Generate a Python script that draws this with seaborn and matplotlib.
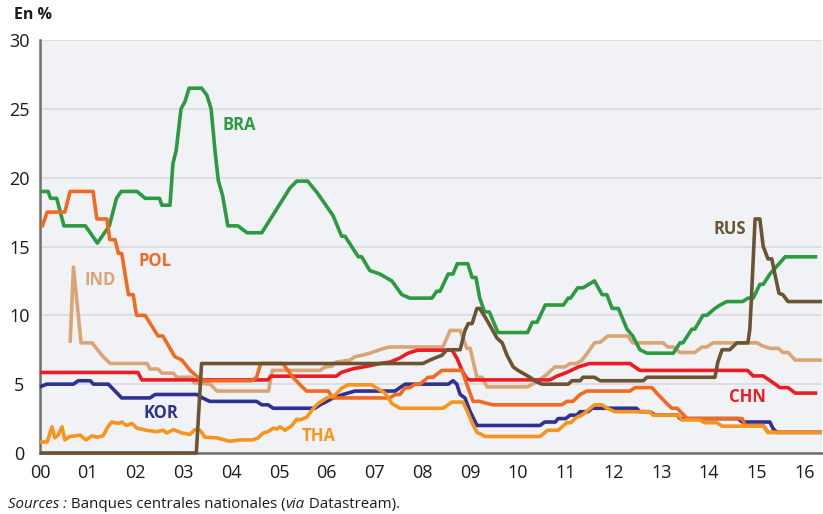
import matplotlib
matplotlib.use('Agg')
import matplotlib.pyplot as plt
import seaborn as sns
import pandas as pd

# ---- data (decimal years since 2000, policy rate in %) ----
BRA = [(0, 19.0), (0.17, 19.0), (0.22, 18.5), (0.35, 18.5), (0.5, 16.5), (0.95, 16.5), (1.2, 15.25),
       (1.45, 16.5), (1.6, 18.5), (1.7, 19.0), (2.03, 19.0), (2.2, 18.5), (2.5, 18.5), (2.55, 18.0),
       (2.72, 18.0), (2.78, 21.0), (2.85, 22.0), (2.95, 25.0), (3.03, 25.5), (3.12, 26.5), (3.38, 26.5),
       (3.49, 26.0), (3.58, 25.0), (3.66, 22.0), (3.73, 19.8), (3.82, 18.7), (3.93, 16.5), (4.14, 16.5),
       (4.33, 16.0), (4.64, 16.0), (5.23, 19.25), (5.37, 19.75), (5.6, 19.75), (5.8, 18.9), (6.0, 17.9),
       (6.13, 17.25), (6.31, 15.75), (6.38, 15.75), (6.66, 14.25), (6.73, 14.25), (6.9, 13.25), (7.11, 13.0),
       (7.36, 12.5), (7.57, 11.5), (7.74, 11.25), (8.2, 11.25), (8.3, 11.75), (8.37, 11.75), (8.54, 13.0),
       (8.64, 13.0), (8.73, 13.75), (8.95, 13.75), (9.04, 12.75), (9.12, 12.75), (9.2, 11.25), (9.3, 10.25),
       (9.4, 10.25), (9.58, 8.75), (10.2, 8.75), (10.3, 9.5), (10.4, 9.5), (10.57, 10.75), (10.95, 10.75),
       (11.05, 11.25), (11.1, 11.25), (11.25, 12.0), (11.36, 12.0), (11.6, 12.5), (11.76, 11.5),
       (11.86, 11.5), (11.97, 10.5), (12.1, 10.5), (12.28, 9.0), (12.4, 8.5), (12.55, 7.5), (12.7, 7.25),
       (13.25, 7.25), (13.39, 8.0), (13.45, 8.0), (13.64, 9.0), (13.7, 9.0), (13.87, 10.0), (13.95, 10.0),
       (14.12, 10.5), (14.23, 10.75), (14.37, 11.0), (14.7, 11.0), (14.81, 11.25), (14.92, 11.25),
       (15.06, 12.25), (15.13, 12.25), (15.27, 13.0), (15.59, 14.25), (16.26, 14.25)]

POL = [(0.04, 16.4), (0.15, 17.5), (0.52, 17.5), (0.63, 19.0), (1.11, 19.0), (1.19, 17.0), (1.4, 17.0),
       (1.46, 15.5), (1.57, 15.5), (1.64, 14.5), (1.71, 14.5), (1.85, 11.5), (1.95, 11.5), (2.02, 10.0),
       (2.2, 10.0), (2.47, 8.5), (2.57, 8.5), (2.82, 7.0), (2.97, 6.75), (3.14, 6.0), (3.39, 5.25),
       (4.43, 5.25), (4.53, 5.5), (4.62, 6.5), (5.08, 6.5), (5.29, 5.5), (5.5, 4.75), (5.58, 4.5),
       (6.03, 4.5), (6.13, 4.0), (7.32, 4.0), (7.43, 4.25), (7.53, 4.25), (7.64, 4.75), (7.74, 4.75),
       (7.85, 5.0), (7.95, 5.0), (8.12, 5.5), (8.22, 5.5), (8.41, 6.0), (8.83, 6.0), (8.93, 5.0),
       (9.06, 3.75), (9.2, 3.75), (9.35, 3.6), (9.48, 3.5), (10.92, 3.5), (11.02, 3.75), (11.15, 3.75),
       (11.3, 4.25), (11.44, 4.5), (12.34, 4.5), (12.45, 4.75), (12.8, 4.75), (12.93, 4.25), (13.14, 3.5),
       (13.22, 3.25), (13.33, 3.25), (13.54, 2.5), (14.69, 2.5), (14.75, 2.0), (15.13, 2.0), (15.23, 1.5),
       (16.36, 1.5)]

CHN = [(0, 5.85), (2.05, 5.85), (2.13, 5.31), (4.77, 5.31), (4.83, 5.58), (6.2, 5.58), (6.3, 5.85),
       (6.55, 6.12), (6.84, 6.3), (7.11, 6.5), (7.32, 6.6), (7.53, 6.9), (7.7, 7.25), (7.9, 7.47),
       (8.62, 7.47), (8.72, 6.9), (8.83, 6.0), (8.93, 5.4), (9.0, 5.31), (10.67, 5.31), (10.8, 5.56),
       (11.02, 5.85), (11.26, 6.25), (11.5, 6.5), (12.34, 6.5), (12.55, 6.0), (14.8, 6.0), (14.92, 5.6),
       (15.13, 5.6), (15.34, 5.1), (15.48, 4.75), (15.65, 4.75), (15.8, 4.35), (16.26, 4.35)]

KOR = [(0, 4.8), (0.14, 5.0), (0.7, 5.0), (0.8, 5.25), (1.05, 5.25), (1.12, 5.0), (1.43, 5.0),
       (1.57, 4.5), (1.71, 4.0), (2.3, 4.0), (2.41, 4.25), (3.28, 4.25), (3.4, 4.0), (3.55, 3.75),
       (4.53, 3.75), (4.64, 3.5), (4.77, 3.5), (4.88, 3.25), (5.75, 3.25), (5.86, 3.5), (6.0, 3.75),
       (6.13, 4.0), (6.34, 4.25), (6.59, 4.5), (7.43, 4.5), (7.53, 4.75), (7.64, 5.0), (8.54, 5.0),
       (8.64, 5.25), (8.72, 5.0), (8.79, 4.25), (8.89, 4.0), (9.0, 3.0), (9.14, 2.0), (10.46, 2.0),
       (10.56, 2.25), (10.78, 2.25), (10.84, 2.5), (11.0, 2.5), (11.09, 2.75), (11.23, 2.75), (11.3, 3.0),
       (11.46, 3.0), (11.55, 3.25), (12.48, 3.25), (12.55, 3.0), (12.76, 3.0), (12.87, 2.75), (13.33, 2.75),
       (13.39, 2.5), (14.6, 2.5), (14.69, 2.25), (15.27, 2.25), (15.34, 1.75), (15.42, 1.5), (16.36, 1.5)]

THA = [(0, 0.8), (0.15, 0.8), (0.25, 1.9), (0.31, 1.1), (0.38, 1.3), (0.46, 1.9), (0.52, 0.95),
       (0.63, 1.2), (0.84, 1.3), (0.96, 0.95), (1.09, 1.25), (1.19, 1.15), (1.32, 1.25), (1.42, 1.9),
       (1.5, 2.25), (1.64, 2.15), (1.71, 2.25), (1.81, 2.0), (1.92, 2.15), (2.03, 1.8), (2.23, 1.65),
       (2.44, 1.55), (2.58, 1.65), (2.65, 1.45), (2.79, 1.7), (2.97, 1.45), (3.14, 1.35), (3.24, 1.7),
       (3.35, 1.65), (3.45, 1.15), (3.7, 1.1), (3.97, 0.85), (4.18, 0.95), (4.46, 0.95), (4.56, 1.1),
       (4.67, 1.45), (4.77, 1.55), (4.88, 1.8), (4.96, 1.75), (5.02, 1.9), (5.13, 1.65), (5.27, 2.0),
       (5.37, 2.45), (5.44, 2.4), (5.58, 2.6), (5.72, 3.25), (5.82, 3.6), (6.0, 4.0), (6.17, 4.2),
       (6.31, 4.7), (6.44, 4.95), (6.94, 4.95), (7.05, 4.7), (7.22, 4.35), (7.36, 3.6), (7.53, 3.25),
       (8.43, 3.25), (8.62, 3.7), (8.85, 3.7), (8.93, 3.1), (9.04, 2.2), (9.14, 1.5), (9.27, 1.3),
       (9.31, 1.2), (10.46, 1.2), (10.62, 1.65), (10.84, 1.65), (11.02, 2.2), (11.1, 2.2), (11.23, 2.6),
       (11.34, 2.75), (11.46, 3.1), (11.6, 3.5), (11.76, 3.5), (11.86, 3.25), (12.03, 3.0), (12.76, 3.0),
       (12.82, 2.75), (13.35, 2.75), (13.43, 2.4), (13.8, 2.4), (13.91, 2.2), (14.16, 2.2), (14.27, 1.95),
       (15.13, 1.95), (15.23, 1.5), (16.36, 1.5)]

IND = [(0.63, 8.0), (0.7, 13.5), (0.86, 8.0), (1.09, 8.0), (1.32, 7.0), (1.47, 6.5), (2.24, 6.5),
       (2.3, 6.1), (2.47, 6.1), (2.55, 5.8), (2.79, 5.8), (2.86, 5.5), (3.18, 5.5), (3.22, 5.1),
       (3.56, 5.0), (3.7, 4.5), (4.78, 4.5), (4.86, 6.0), (5.86, 6.0), (5.96, 6.25), (6.1, 6.3),
       (6.2, 6.6), (6.49, 6.75), (6.59, 7.0), (6.74, 7.1), (6.9, 7.25), (7.15, 7.55), (7.32, 7.7),
       (8.43, 7.7), (8.58, 8.9), (8.79, 8.9), (8.93, 7.6), (9.0, 7.6), (9.14, 5.5), (9.25, 5.5),
       (9.35, 4.8), (10.2, 4.8), (10.4, 5.2), (10.6, 5.7), (10.77, 6.25), (10.98, 6.25), (11.09, 6.5),
       (11.23, 6.5), (11.34, 6.75), (11.46, 7.3), (11.6, 8.0), (11.72, 8.05), (11.88, 8.5), (12.3, 8.5),
       (12.4, 8.0), (13.03, 8.0), (13.14, 7.7), (13.25, 7.7), (13.39, 7.3), (13.7, 7.3), (13.85, 7.7),
       (13.95, 7.7), (14.08, 8.0), (15.0, 8.0), (15.1, 7.8), (15.27, 7.6), (15.45, 7.6), (15.54, 7.3),
       (15.65, 7.3), (15.8, 6.75), (16.36, 6.75)]

RUS = [(0, 0.0), (3.27, 0.0), (3.38, 6.5), (8.01, 6.5), (8.16, 6.75), (8.26, 6.9), (8.41, 7.1),
       (8.51, 7.5), (8.79, 7.5), (8.89, 8.9), (8.96, 9.4), (9.04, 9.4), (9.14, 10.5), (9.2, 10.5),
       (9.35, 9.65), (9.56, 8.35), (9.67, 8.0), (9.77, 7.1), (9.9, 6.25), (10.0, 6.0), (10.1, 5.8),
       (10.25, 5.5), (10.4, 5.15), (10.5, 5.0), (11.05, 5.0), (11.13, 5.25), (11.3, 5.25), (11.36, 5.5),
       (11.6, 5.5), (11.72, 5.25), (12.62, 5.25), (12.7, 5.5), (14.12, 5.5), (14.18, 6.6), (14.27, 7.5),
       (14.43, 7.5), (14.58, 8.0), (14.81, 8.0), (14.85, 9.0), (14.88, 11.0), (14.92, 14.0), (14.96, 17.0),
       (15.06, 17.0), (15.13, 15.0), (15.23, 14.1), (15.31, 14.1), (15.38, 12.9), (15.46, 11.6),
       (15.54, 11.5), (15.65, 11.0), (16.36, 11.0)]

countries = ['IND', 'BRA', 'CHN', 'KOR', 'POL', 'THA', 'RUS']
series = {'BRA': BRA, 'POL': POL, 'CHN': CHN, 'KOR': KOR, 'THA': THA, 'IND': IND, 'RUS': RUS}
colors = {'BRA': '#2b9a40', 'POL': '#f26a21', 'CHN': '#ed1c24', 'KOR': '#2e3192',
          'THA': '#f7941d', 'IND': '#d9a577', 'RUS': '#6b5432'}
label_pos = {'BRA': (4.16, 23.8), 'POL': (2.4, 13.95), 'IND': (1.25, 12.6), 'KOR': (2.53, 2.9),
             'THA': (5.82, 1.25), 'RUS': (14.44, 16.25), 'CHN': (14.81, 4.07)}
xtick_labels = [f"{i:02d}" for i in range(17)]
yticks = [0, 5, 10, 15, 20, 25, 30]

rows = [(c, t, v) for c in countries for t, v in series[c]]
df = pd.DataFrame(rows, columns=['country', 'year', 'rate'])

sns.set_style('white')
plt.rcParams['font.family'] = ['Open Sans', 'DejaVu Sans']

W, H = 823, 514
fig = plt.figure(figsize=(W / 100, H / 100), dpi=100)
ax = fig.add_axes([40 / W, 61 / H, 782 / W, 413 / H])
ax.set_facecolor('#f0f2f5')

for i, c in enumerate(countries):
    sns.lineplot(data=df[df.country == c], x='year', y='rate', color=colors[c], lw=2.6,
                 estimator=None, sort=False, ax=ax, legend=False, zorder=3 + i)
for line in ax.get_lines():
    line.set_clip_on(False)
    line.set_solid_joinstyle('round')
    line.set_solid_capstyle('butt')

ax.set_xlim(0, 16.36)
ax.set_ylim(0, 30)
ax.set_xlabel('')
ax.set_ylabel('')
ax.set_xticks(range(17))
ax.set_xticklabels(xtick_labels)
ax.set_yticks(yticks)
ax.set_yticklabels([str(v) for v in yticks])
for lab in ax.get_yticklabels():
    lab.set_horizontalalignment('center')

ax.yaxis.grid(True, color='#d9dadd', lw=1.2)
ax.xaxis.grid(False)
ax.set_axisbelow(True)
for s in ['top', 'right']:
    ax.spines[s].set_visible(False)
for s in ['left', 'bottom']:
    ax.spines[s].set_color('#6e6e6e')
    ax.spines[s].set_linewidth(1.8)
ax.tick_params(axis='y', length=0, pad=15, labelsize=13, labelcolor='#1a1a1a')
ax.tick_params(axis='x', length=4, width=1.2, color='#6e6e6e', direction='out', pad=4,
               labelsize=13, labelcolor='#1a1a1a')

for c, (x, y) in label_pos.items():
    ax.text(x, y, c, color=colors[c], fontsize=12, fontweight='bold', ha='center', va='center', zorder=20)

fig.text(14 / W, 1 - 15 / H, 'En %', fontsize=11.5, fontweight='bold', ha='left', va='center', color='#1a1a1a')

fs = 10.8
t1 = fig.text(8 / W, 1 - 512 / H, 'Sources :', fontsize=fs, style='italic', ha='left', va='bottom', color='#1a1a1a')
t2 = ax.annotate(' Banques centrales nationales (', xy=(1, 0), xycoords=t1, fontsize=fs,
                 ha='left', va='bottom', color='#1a1a1a', annotation_clip=False)
t3 = ax.annotate('via', xy=(1, 0), xycoords=t2, fontsize=fs, style='italic',
                 ha='left', va='bottom', color='#1a1a1a', annotation_clip=False)
t4 = ax.annotate(' Datastream).', xy=(1, 0), xycoords=t3, fontsize=fs,
                 ha='left', va='bottom', color='#1a1a1a', annotation_clip=False)

fig.savefig('out.png', dpi=100)
